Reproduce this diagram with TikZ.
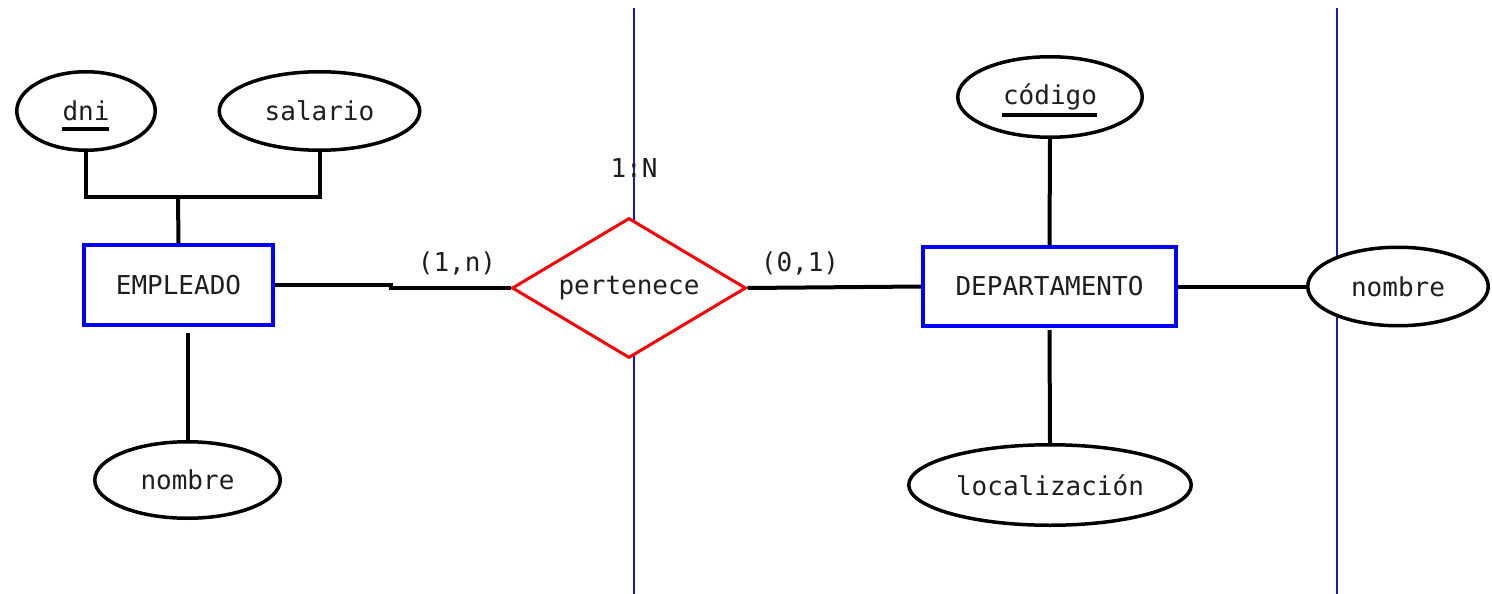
\documentclass[tikz,border=0pt]{standalone}
\usepackage{fontspec}
\setmonofont{DejaVu Sans Mono}
\usetikzlibrary{shapes.geometric}
\definecolor{entblue}{RGB}{0,0,250}
\definecolor{relred}{RGB}{250,0,0}
\definecolor{axisblue}{RGB}{25,25,185}
\definecolor{ink}{RGB}{30,30,30}
\begin{document}
\begin{tikzpicture}[x=1pt,y=-1pt,
  every node/.style={font={\ttfamily\fontsize{26}{30}\selectfont}, text=ink},
  attr/.style={ellipse, draw=black, line width=3.5pt, fill=white, inner sep=0pt},
  entity/.style={rectangle, draw=entblue, line width=4pt, fill=white, inner sep=0pt},
  relship/.style={diamond, aspect=2, draw=relred, line width=3pt, fill=white, inner sep=0pt},
  link/.style={draw=black, line width=4pt},
  axis/.style={draw=axisblue, line width=1.8pt},
  keyline/.style={draw=black, line width=4pt},
  card/.style={inner sep=0pt}]

% page
\fill[white] (0,0) rectangle (1492,594);
\useasboundingbox (0,0) rectangle (1492,594);

% vertical guide lines (behind the shapes)
\coordinate (axAtop) at (634,8);
\coordinate (axAbot) at (634,594);
\coordinate (axBtop) at (1337,8);
\coordinate (axBbot) at (1337,594);
\draw[axis] (axAtop) -- (axAbot);
\draw[axis] (axBtop) -- (axBbot);

% entities
\node[entity, minimum width=189pt, minimum height=80pt] (emp) at (178.5,285) {EMPLEADO};
\node[entity, minimum width=253pt, minimum height=79pt] (dep) at (1049.5,286.5) {DEPARTAMENTO};

% relationship
\node[relship, minimum width=234pt, minimum height=140pt] (rel) at (629,288) {pertenece};

% attributes
\node[attr, minimum width=138.5pt, minimum height=78.5pt] (dni) at (86,111) {dni};
\node[attr, minimum width=200.5pt, minimum height=78.5pt] (sal) at (319.5,111) {salario};
\node[attr, minimum width=185.5pt, minimum height=76.5pt] (nomE) at (187.5,480) {nombre};
\node[attr, minimum width=184.5pt, minimum height=80.5pt] (cod) at (1050,97) {código};
\node[attr, minimum width=282.5pt, minimum height=80.5pt] (loc) at (1050,485) {localización};
\node[attr, minimum width=180.5pt, minimum height=78.5pt] (nomD) at (1398,286.5) {nombre};

% key underlines
\draw[keyline] ([xshift=-24pt,yshift=-18pt]dni.center) -- ([xshift=23pt,yshift=-18pt]dni.center);
\draw[keyline] ([xshift=-48pt,yshift=-18pt]cod.center) -- ([xshift=47pt,yshift=-18pt]cod.center);

% cardinalities
\node[card] (cardE) at (457,263) {(1,n)};
\node[card] (cardD) at (800,263) {(0,1)};
\node[card] (ratio) at (634,168) {1:N};

% connectors
\coordinate (bus) at (178,197);
\draw[link] (dni.south) |- (bus) -| (sal.south);
\draw[link] (bus) -- (emp.north);
\draw[link, shorten >=6pt] (nomE.north) -- (nomE.north |- emp.south);
\draw[link] (emp.east) -- +(116,0) |- (rel.west);
\draw[link] (rel.east) -- (dep.west);
\draw[link] (cod.south) -- (dep.north);
\draw[link, shorten <=2pt] (dep.south) -- (loc.north);
\draw[link] (dep.east) -- (nomD.west);
\end{tikzpicture}
\end{document}
